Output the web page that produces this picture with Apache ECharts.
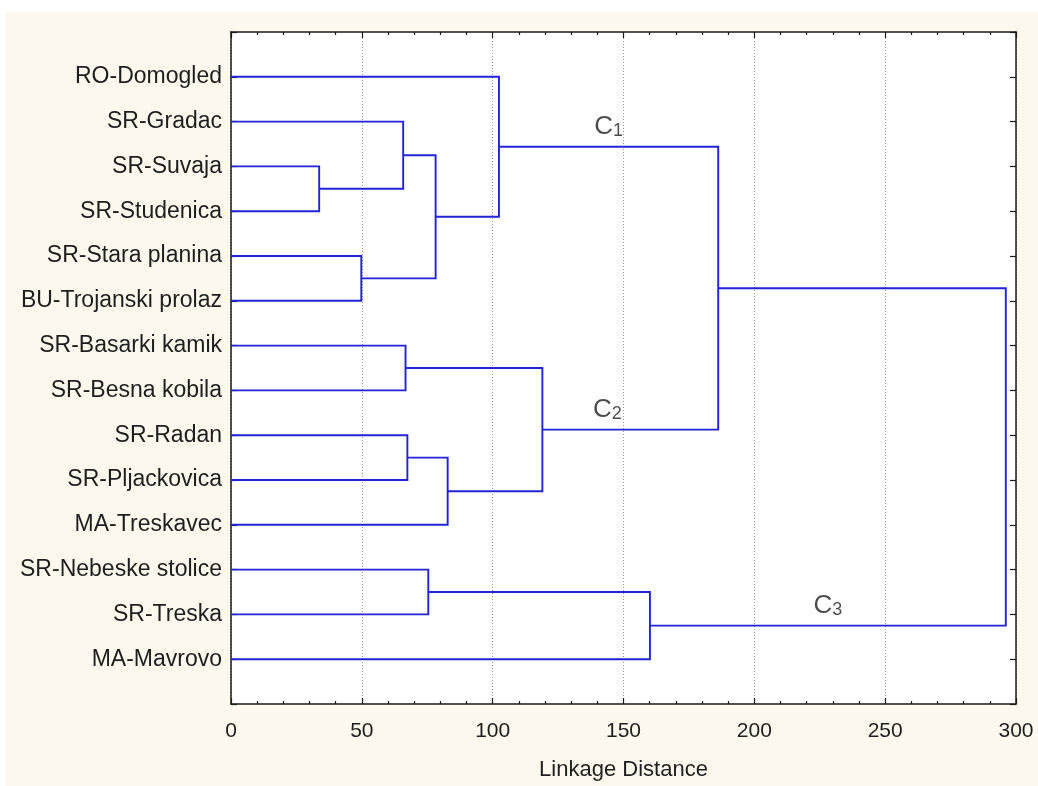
<!DOCTYPE html>
<html>
<head>
<meta charset="utf-8">
<script src="https://cdn.jsdelivr.net/npm/echarts@6/dist/echarts.min.js"></script>
<style>
html,body{margin:0;padding:0;background:#ffffff;width:1038px;height:786px;overflow:hidden;}
#chart{position:absolute;left:6px;top:12px;width:1032px;height:774px;background:#fcf8ee;}
</style>
</head>
<body>
<div id="chart"></div>
<script>
// Leaves (top to bottom)
const leaves = ['RO-Domogled','SR-Gradac','SR-Suvaja','SR-Studenica','SR-Stara planina','BU-Trojanski prolaz',
  'SR-Basarki kamik','SR-Besna kobila','SR-Radan','SR-Pljackovica','MA-Treskavec','SR-Nebeske stolice','SR-Treska','MA-Mavrovo'];
// Linkage merges: node ids 0..13 are leaves, merge k creates node 14+k
const mergeA    = [2,    4,    1,    6,    8,    11,   16,   18,   0,     17,    19,    22,    25];
const mergeB    = [3,    5,    14,   7,    9,    12,   15,   10,   20,    21,    13,    23,    24];
const mergeDist = [33.7, 49.8, 65.8, 66.7, 67.4, 75.4, 78.2, 82.8, 102.4, 119.0, 160.1, 186.2, 296.1];
// Cluster annotations: label, subscript, merge whose link line carries the label
const clusterMain = ['C','C','C'];
const clusterSub  = ['1','2','3'];
const clusterNode = [22, 23, 24];
const xTicks = [0,50,100,150,200,250,300];

// label nudges (pixels) – style only
const clusterLabelShift = [0, -23, 0];

const nodeY = [], nodeH = [];
leaves.forEach((n,i)=>{ nodeY[i] = i+1; nodeH[i] = 0; });
const segs = [];
const parentOf = {};
mergeA.forEach((a,k)=>{
  const b = mergeB[k], h = mergeDist[k], id = leaves.length + k;
  nodeY[id] = (nodeY[a] + nodeY[b]) / 2;
  nodeH[id] = h;
  parentOf[a] = id; parentOf[b] = id;
  segs.push({coords: [[nodeH[a], nodeY[a]], [h, nodeY[a]], [h, nodeY[b]], [nodeH[b], nodeY[b]]]});
});
const clusterPts = clusterNode.map((n,i)=>{
  const p = parentOf[n];
  return {value: [(nodeH[n] + nodeH[p]) / 2, nodeY[n]], main: clusterMain[i], sub: clusterSub[i],
          label:{offset:[clusterLabelShift[i], 0]}};
});

const FONT = 'Liberation Sans, Arial, sans-serif';
const lineCol = '#1a1a1a';
const chart = echarts.init(document.getElementById('chart'));
const xCommon = {
  type:'value', min:xTicks[0], max:xTicks[xTicks.length-1], interval:50,
  axisLine:{show:true, onZero:false, lineStyle:{color:lineCol, width:1.5}},
  axisTick:{show:true, inside:true, length:6, lineStyle:{color:lineCol, width:1.2}},
  minorTick:{show:true, splitNumber:5, length:3, lineStyle:{color:lineCol, width:1.2}},
};
const yCommon = {
  type:'value', min:0, max:15, interval:1, inverse:true,
  axisLine:{show:true, onZero:false, lineStyle:{color:lineCol, width:1.5}},
  axisTick:{show:true, inside:true, length:6, lineStyle:{color:lineCol, width:1.2}},
  splitLine:{show:false}
};
chart.setOption({
  animation:false,
  grid:{left:225, right:22, top:20, bottom:82, show:true, backgroundColor:'#ffffff', borderWidth:0},
  xAxis:[
    Object.assign({}, xCommon, {
      position:'bottom',
      name:'Linkage Distance', nameLocation:'middle', nameGap:55,
      nameTextStyle:{fontFamily:FONT, fontSize:22, color:'#1e1e1e'},
      axisLabel:{fontFamily:FONT, fontSize:21, color:'#1e1e1e', margin:17},
      splitLine:{show:true, lineStyle:{color:'#9a9a9a', type:[1,2], width:1}}
    }),
    Object.assign({}, xCommon, {position:'top', axisLabel:{show:false}, splitLine:{show:false}})
  ],
  yAxis:[
    Object.assign({}, yCommon, {
      position:'left',
      axisLabel:{fontFamily:FONT, fontSize:23, color:'#1e1e1e', margin:9,
        formatter:v => leaves[v-1] || ''}
    }),
    Object.assign({}, yCommon, {position:'right', axisLabel:{show:false}})
  ],
  series:[
    {
      type:'lines', coordinateSystem:'cartesian2d', polyline:true,
      xAxisIndex:0, yAxisIndex:0,
      lineStyle:{color:'#2222d6', width:1.9, opacity:1},
      data:segs, silent:true, z:3
    },
    {
      type:'scatter', xAxisIndex:0, yAxisIndex:0, symbolSize:0, silent:true,
      data:clusterPts,
      label:{show:true, position:'top', distance:7,
        formatter:p => '{m|' + p.data.main + '}{s|' + p.data.sub + '}',
        rich:{
          m:{fontFamily:FONT, fontSize:26, color:'#1e1e1e'},
          s:{fontFamily:FONT, fontSize:18, color:'#1e1e1e', verticalAlign:'bottom'}
        }
      }
    }
  ]
});
</script>
</body>
</html>
